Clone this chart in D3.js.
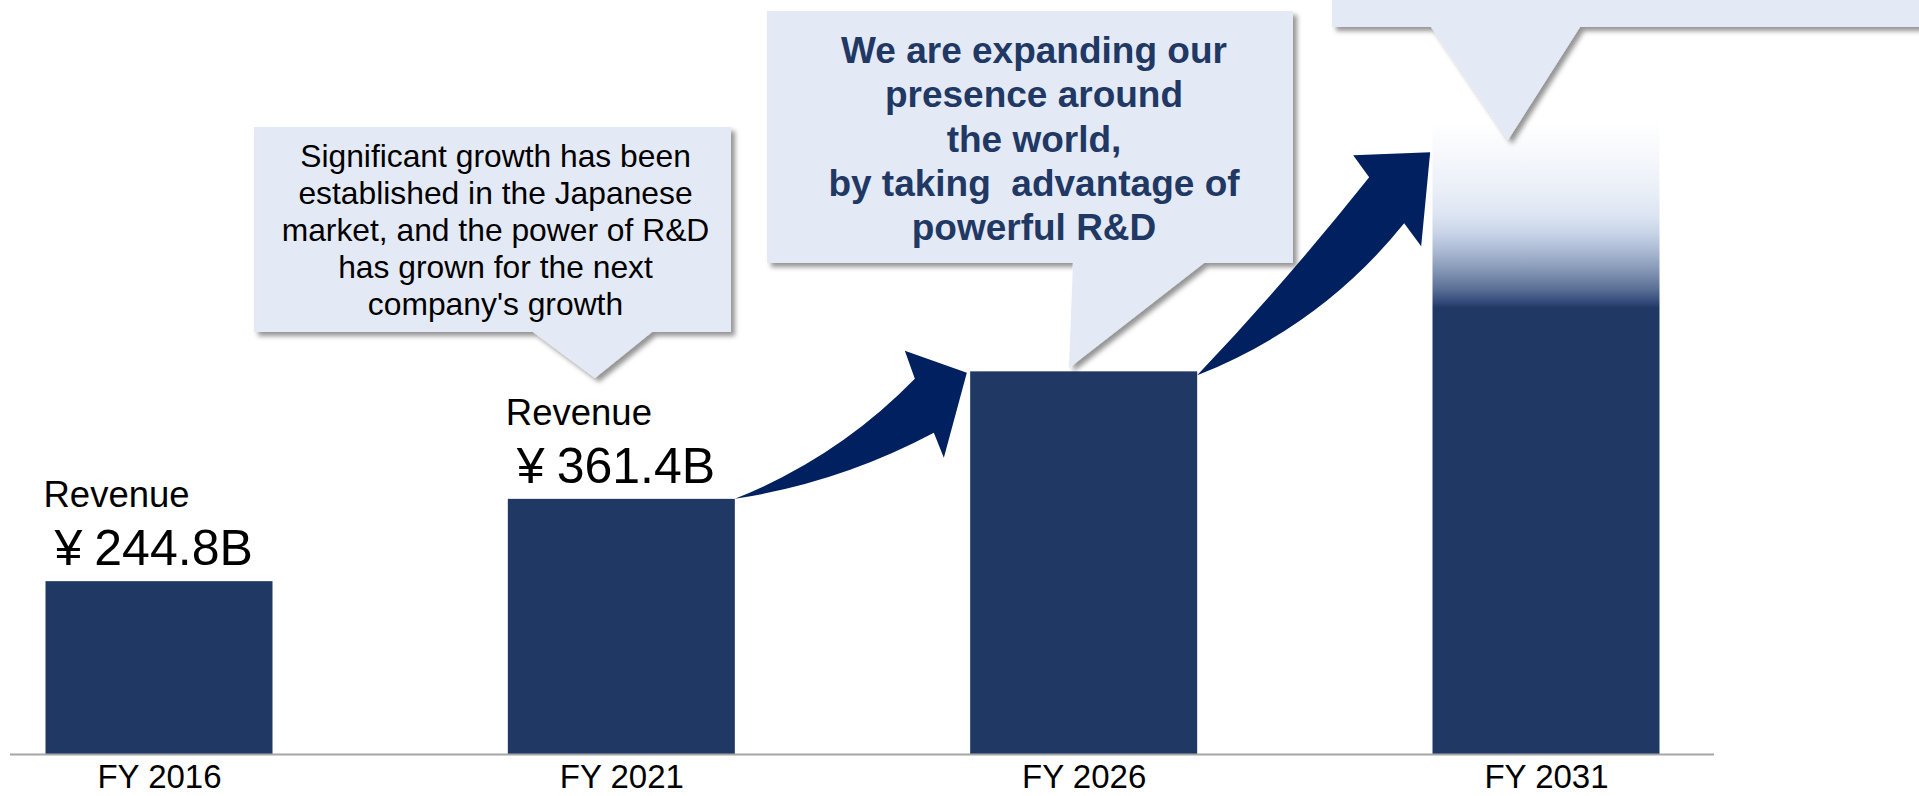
<!DOCTYPE html>
<html><head><meta charset="utf-8">
<script src="https://cdn.jsdelivr.net/npm/d3@7"></script>
<style>
html,body{margin:0;padding:0;background:#fff;overflow:hidden}
svg{display:block}
text{font-family:"Liberation Sans",Arial,Helvetica,sans-serif}
</style></head><body>
<svg id="chart" width="1919" height="796"></svg>
<script>
// ---------- data ----------
const categories = ["FY 2016", "FY 2021", "FY 2026", "FY 2031"];
const revenue = [244.8, 361.4, 542, 895];          // ¥ billion (FY2026 / FY2031)
const revenueLabels = ["244.8B", "361.4B", null, null];
const forecast = [false, false, false, true];       // FY2031 bar fades out at the top
const solidLevel2031 = 632;                          // level where the fading bar becomes solid
const labelTitle = "Revenue";
const currency = "¥";
const callout1Lines = [
  "Significant growth has been",
  "established in the Japanese",
  "market, and the power of R&D",
  "has grown for the next",
  "company's growth"
];
const callout2Lines = [
  "We are expanding our",
  "presence around",
  "the world,",
  "by taking  advantage of",
  "powerful R&D"
];

// ---------- setup ----------
const W = 1919, H = 796, baseY = 754;
const svg = d3.select("#chart");
const x = d3.scalePoint().domain(categories).range([159, 1546]);
const bw = 227;
const y = d3.scaleLinear().domain([0, 1000]).range([baseY, 48]);

const BAR = "#203864", ARROW = "#002060", BOX = "#E4EAF5";

const defs = svg.append("defs");
const grad = defs.append("linearGradient").attr("id", "fade")
  .attr("gradientUnits", "userSpaceOnUse")
  .attr("x1", 0).attr("x2", 0)
  .attr("y1", y(revenue[3])).attr("y2", y(solidLevel2031));
[[0, "#FFFFFF"], [0.15, "#F7F9FC"], [0.35, "#EBF0F8"], [0.5, "#DDE5F2"],
 [0.6, "#C7D3E7"], [0.7, "#A9B8D1"], [0.8, "#8496B5"], [0.9, "#5A6F95"],
 [0.97, "#33497A"], [1, BAR]].forEach(([o, c]) =>
  grad.append("stop").attr("offset", o).attr("stop-color", c));

const f = defs.append("filter").attr("id", "shadow")
  .attr("x", "-10%").attr("y", "-10%").attr("width", "130%").attr("height", "130%");
f.append("feDropShadow").attr("dx", 4).attr("dy", 4).attr("stdDeviation", 2.5)
  .attr("flood-color", "#000").attr("flood-opacity", 0.42);

// ---------- bars ----------
svg.append("g").selectAll("rect").data(categories).join("rect")
  .attr("x", d => x(d) - bw / 2)
  .attr("width", bw)
  .attr("y", (d, i) => y(revenue[i]))
  .attr("height", (d, i) => baseY - y(revenue[i]))
  .attr("fill", (d, i) => forecast[i] ? "url(#fade)" : BAR);

// ---------- arrows ----------
function arrowPath(T, o) {
  const p = ([dx, dy]) => `${T[0] + dx},${T[1] + dy}`;
  return `M${T[0]},${T[1]} Q${p(o.cu)} ${p(o.n1)} L${p(o.b1)} L${p(o.tip)} L${p(o.b2)} L${p(o.n2)} Q${p(o.cl)} ${T[0]},${T[1]} Z`;
}
const arrows = [
  { T: [x(categories[1]) + bw / 2, y(revenue[1])],
    o: { n1: [180, -120], b1: [170, -148], tip: [232, -126], b2: [209, -41], n2: [199, -66], cu: [103, -41], cl: [105, -16] } },
  { T: [x(categories[2]) + bw / 2, y(revenue[2]) + 4],
    o: { n1: [172, -198], b1: [156, -220], tip: [233, -223], b2: [224, -129], n2: [207, -152], cu: [90, -95], cl: [124, -49] } }
];
svg.append("g").selectAll("path").data(arrows).join("path")
  .attr("d", a => arrowPath(a.T, a.o))
  .attr("fill", ARROW);

// ---------- callouts ----------
function calloutPath(b) {
  return `M${b.x0},${b.y0} H${b.x1} V${b.y1} H${b.p1} L${b.tx},${b.ty} L${b.p0},${b.y1} H${b.x0} Z`;
}
const boxes = [
  { x0: 254, y0: 127, x1: 731, y1: 332, p0: 533, p1: 652, tx: 595, ty: 378 },
  { x0: 767, y0: 11, x1: 1293, y1: 263, p0: 1073, p1: 1204, tx: 1069, ty: 368 },
  { x0: 1332, y0: -300, x1: 1960, y1: 27, p0: 1431, p1: 1580, tx: 1508, ty: 140 }
];
svg.append("g").selectAll("path").data(boxes).join("path")
  .attr("d", calloutPath)
  .attr("fill", BOX)
  .attr("filter", "url(#shadow)");

svg.append("g").selectAll("text").data(callout1Lines).join("text")
  .attr("x", 495.5).attr("y", (d, i) => 167 + i * 37)
  .attr("text-anchor", "middle")
  .attr("font-size", 31.8).attr("fill", "#000")
  .style("white-space", "pre")
  .text(d => d);

svg.append("g").selectAll("text").data(callout2Lines).join("text")
  .attr("x", 1034).attr("y", (d, i) => 63 + i * 44.3)
  .attr("text-anchor", "middle")
  .attr("font-size", 37).attr("font-weight", "bold").attr("fill", "#1F3864")
  .style("white-space", "pre")
  .text(d => d);

// ---------- value labels ----------
const lab = svg.append("g").selectAll("g")
  .data(categories.map((c, i) => ({ c, v: revenue[i], l: revenueLabels[i] })).filter(d => d.l))
  .join("g");
lab.append("text")
  .attr("x", d => x(d.c) - bw / 2 - 2)
  .attr("y", d => y(d.v) - 74)
  .attr("font-size", 36.5).attr("fill", "#000")
  .text(labelTitle);
const vt = lab.append("text")
  .attr("x", d => x(d.c) - bw / 2 + 9)
  .attr("y", d => y(d.v) - 16)
  .attr("font-size", 50).attr("fill", "#000");
vt.append("tspan").text(currency);
vt.append("tspan").attr("dx", 12).text(d => d.l);

// ---------- axis ----------
const ax = svg.append("g").attr("transform", `translate(0,${baseY})`)
  .call(d3.axisBottom(x).tickSize(0).tickPadding(10.5));
ax.select(".domain").remove();
ax.selectAll("text").attr("font-size", 33).attr("fill", "#000")
  .attr("font-family", '"Liberation Sans",Arial,sans-serif');
svg.append("line").attr("x1", 10).attr("x2", 1714)
  .attr("y1", baseY + 0.5).attr("y2", baseY + 0.5)
  .attr("stroke", "#A6A6A6").attr("stroke-width", 2);
</script>
</body></html>
